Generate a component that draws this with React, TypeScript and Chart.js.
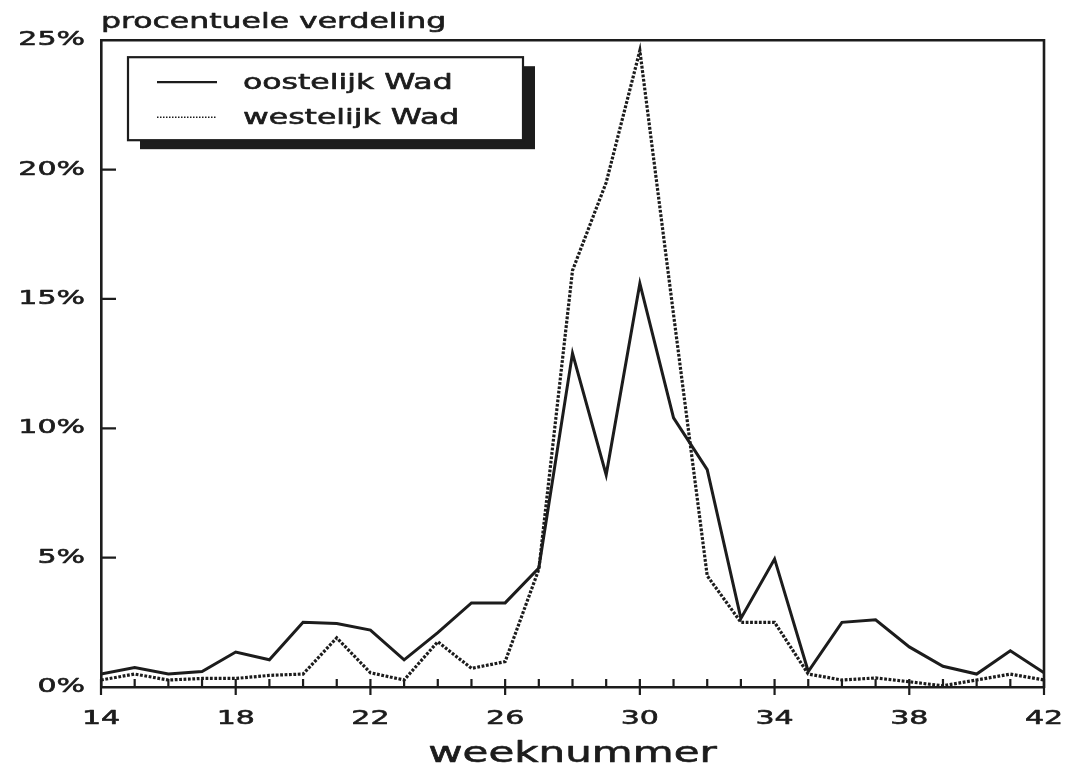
import React, { useEffect, useRef } from 'react';
import { Chart, registerables } from 'chart.js';

Chart.register(...registerables);

// ---- data ----
const weeks = [14, 15, 16, 17, 18, 19, 20, 21, 22, 23, 24, 25, 26, 27, 28, 29, 30, 31, 32, 33, 34, 35, 36, 37, 38, 39, 40, 41, 42];
const oostelijk = [0.5, 0.75, 0.5, 0.6, 1.35, 1.05, 2.5, 2.45, 2.2, 1.05, 2.1, 3.25, 3.25, 4.6, 12.9, 8.2, 15.6, 10.4, 8.4, 2.65, 4.95, 0.6, 2.5, 2.6, 1.55, 0.8, 0.5, 1.4, 0.55];
const westelijk = [0.27, 0.5, 0.27, 0.33, 0.33, 0.45, 0.5, 1.9, 0.55, 0.27, 1.75, 0.72, 0.98, 4.55, 16.1, 19.5, 24.6, 14.4, 4.3, 2.5, 2.5, 0.5, 0.27, 0.35, 0.2, 0.05, 0.27, 0.5, 0.27];
const seriesLabels = ['oostelijk Wad', 'westelijk Wad'];
const xTickValues = [14, 18, 22, 26, 30, 34, 38, 42];
const yTickValues = [0, 5, 10, 15, 20, 25];
const yTitle = 'procentuele verdeling';
const xTitle = 'weeknummer';

const FONT = '"DejaVu Sans", "Noto Sans", sans-serif';
const INK = '#1c1c1c';
const SX = 1.5; // the reference lettering is a wide, extended face

// Draw all canvas text horizontally widened and slightly heavier (the text stays real text).
function widenText(ctx: any) {
  const fill = ctx.fillText.bind(ctx);
  const stroke = ctx.strokeText.bind(ctx);
  const measure = ctx.measureText.bind(ctx);
  ctx.fillText = (text: string, x: number, y: number) => {
    ctx.save();
    ctx.translate(x, y);
    ctx.scale(SX, 1);
    fill(text, 0, 0);
    ctx.setLineDash([]);
    ctx.lineWidth = 0.6;
    ctx.lineJoin = 'round';
    ctx.strokeStyle = ctx.fillStyle;
    stroke(text, 0, 0);
    ctx.restore();
  };
  ctx.measureText = (text: string) => {
    const m = measure(text);
    return {
      width: m.width * SX,
      actualBoundingBoxAscent: m.actualBoundingBoxAscent,
      actualBoundingBoxDescent: m.actualBoundingBoxDescent,
      actualBoundingBoxLeft: m.actualBoundingBoxLeft * SX,
      actualBoundingBoxRight: m.actualBoundingBoxRight * SX,
      fontBoundingBoxAscent: m.fontBoundingBoxAscent,
      fontBoundingBoxDescent: m.fontBoundingBoxDescent,
    };
  };
}

const backgroundPlugin = {
  id: 'paper',
  beforeDraw(chart: any) {
    const ctx = chart.ctx;
    ctx.save();
    ctx.fillStyle = '#ffffff';
    ctx.fillRect(0, 0, chart.width, chart.height);
    ctx.restore();
  },
};

const framePlugin = {
  id: 'frame',
  afterDraw(chart: any) {
    const { ctx, chartArea: a, scales } = chart;
    const x = scales.x;
    const y = scales.y;
    ctx.save();
    ctx.strokeStyle = INK;
    ctx.setLineDash([]);
    // top and right border of the plot box
    ctx.lineWidth = 2.6;
    ctx.beginPath();
    ctx.moveTo(a.left - 1, a.top);
    ctx.lineTo(a.right, a.top);
    ctx.lineTo(a.right, a.bottom + 1);
    ctx.stroke();
    // x tick marks: minor inside, major crossing the axis
    ctx.lineWidth = 2.2;
    ctx.beginPath();
    weeks.forEach((w) => {
      const px = x.getPixelForValue(w);
      const major = xTickValues.includes(w);
      ctx.moveTo(px, a.bottom - 8);
      ctx.lineTo(px, major ? a.bottom + 8 : a.bottom);
    });
    // y tick marks inside
    yTickValues.forEach((v) => {
      if (v <= y.min || v >= y.max) return;
      const py = y.getPixelForValue(v);
      ctx.moveTo(a.left, py);
      ctx.lineTo(a.left + 15, py);
    });
    ctx.stroke();

    // legend box with drop shadow
    const bx = a.left + 27;
    const by = a.top + 17;
    const bw = 395;
    const bh = 83;
    ctx.fillStyle = INK;
    ctx.fillRect(bx + 12, by + 9, bw, bh);
    ctx.fillStyle = '#ffffff';
    ctx.fillRect(bx, by, bw, bh);
    ctx.lineWidth = 2.2;
    ctx.strokeRect(bx, by, bw, bh);
    chart.data.datasets.forEach((ds: any, i: number) => {
      const ry = by + 25 + i * 35;
      ctx.beginPath();
      if (i === 0) {
        ctx.setLineDash([]);
        ctx.lineWidth = 2.2;
      } else {
        ctx.setLineDash([1.5, 1.5]);
        ctx.lineWidth = 1.6;
      }
      ctx.moveTo(bx + 29, ry);
      ctx.lineTo(bx + 89, ry);
      ctx.stroke();
      ctx.setLineDash([]);
      ctx.fillStyle = INK;
      ctx.font = `21px ${FONT}`;
      ctx.textBaseline = 'middle';
      ctx.textAlign = 'left';
      ctx.fillText(ds.label, bx + 115, ry + 1);
    });
    ctx.restore();
  },
};

export default function App() {
  const canvasRef = useRef<HTMLCanvasElement | null>(null);

  useEffect(() => {
    const canvas = canvasRef.current;
    if (!canvas) return;
    const context = canvas.getContext('2d');
    if (!context) return;
    widenText(context);
    const chart = new Chart(context, {
      type: 'line',
      data: {
        datasets: [
          {
            label: seriesLabels[0],
            data: weeks.map((w, i) => ({ x: w, y: oostelijk[i] })),
            borderColor: INK,
            borderWidth: 3,
            pointRadius: 0,
            tension: 0,
            fill: false,
          },
          {
            label: seriesLabels[1],
            data: weeks.map((w, i) => ({ x: w, y: westelijk[i] })),
            borderColor: INK,
            borderWidth: 3.2,
            borderDash: [2.8, 1.6],
            pointRadius: 0,
            tension: 0,
            fill: false,
          },
        ],
      },
      options: {
        responsive: false,
        animation: false,
        layout: { padding: { top: 0, right: 47, left: 0, bottom: 0 } },
        plugins: {
          legend: { display: false },
          tooltip: { enabled: false },
          title: {
            display: true,
            text: yTitle,
            position: 'top',
            align: 'start',
            fullSize: false,
            color: INK,
            font: { family: FONT, size: 21, weight: 'normal', lineHeight: 1.2 },
            padding: { top: 10, bottom: 5 },
          },
        },
        scales: {
          x: {
            type: 'linear',
            min: 14,
            max: 42,
            afterBuildTicks: (s: any) => {
              s.ticks = xTickValues.map((v) => ({ value: v }));
            },
            afterFit: (s: any) => {
              s.height = 84;
            },
            grid: { display: false, drawTicks: false },
            border: { display: true, color: INK, width: 2.6 },
            ticks: {
              color: INK,
              font: { family: FONT, size: 20, weight: 'normal' },
              padding: 20,
              maxRotation: 0,
              autoSkip: false,
            },
            title: {
              display: true,
              text: xTitle,
              color: INK,
              font: { family: FONT, size: 28, weight: 'normal', lineHeight: 1 },
              padding: { top: 0, bottom: 2 },
            },
          },
          y: {
            type: 'linear',
            min: 0,
            max: 25,
            afterBuildTicks: (s: any) => {
              s.ticks = yTickValues.map((v) => ({ value: v }));
            },
            afterFit: (s: any) => {
              s.width = 101;
            },
            grid: { display: false, drawTicks: false },
            border: { display: true, color: INK, width: 2.6 },
            ticks: {
              color: INK,
              font: { family: FONT, size: 20, weight: 'normal' },
              padding: 16,
              callback: (v: any) => `${v}%`,
            },
          },
        },
      },
      plugins: [backgroundPlugin, framePlugin],
    } as any);
    return () => chart.destroy();
  }, []);

  return (
    <div style={{ position: 'absolute', left: 0, top: 0, width: 1091, height: 771, background: '#fff' }}>
      <canvas ref={canvasRef} width={1091} height={771} style={{ display: 'block', width: 1091, height: 771 }} />
    </div>
  );
}
